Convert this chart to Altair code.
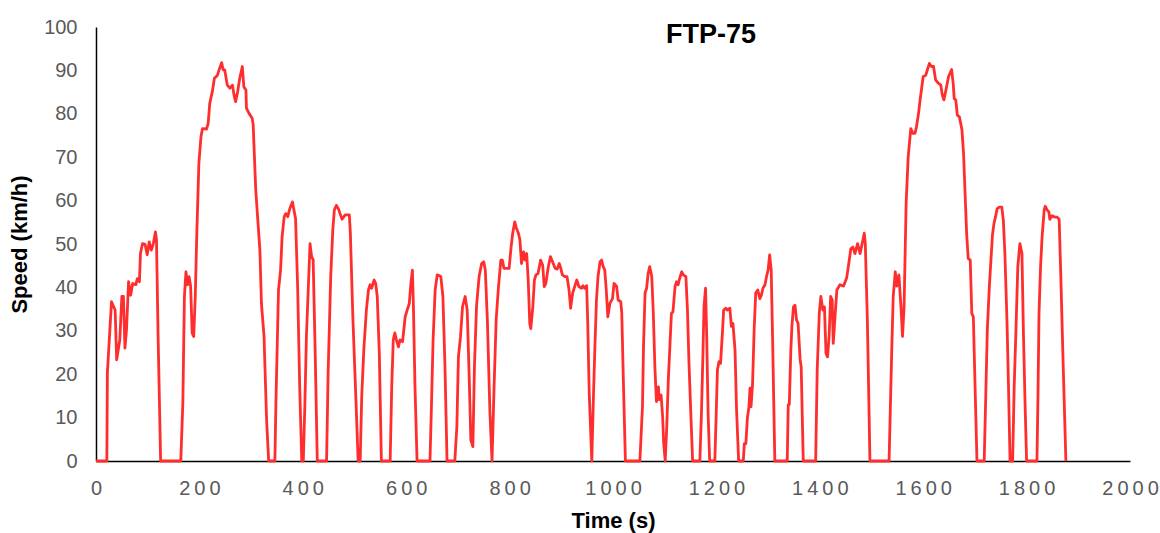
import altair as alt
import pandas as pd

# FTP-75 drive cycle: time (s) and vehicle speed (km/h), split by phase.

# Cold-start phase
cold_t = [0, 21, 22, 30, 37, 40, 46, 50, 53, 56, 59, 63, 67, 71, 77, 80, 84, 86, 90, 95,
          99, 103, 107, 111, 115, 117, 120, 125, 164, 168, 171, 174, 177, 180, 183, 186, 189, 192, 195, 199,
          203, 206, 214, 217, 220, 225, 229, 235, 238, 243, 246, 249, 254, 259, 264, 267, 270, 274, 278, 283,
          286, 290, 291, 296, 302, 304, 309, 313, 317, 320, 325, 330, 334, 346, 348, 353, 357, 360, 364, 367,
          371, 374, 376, 380, 383, 386, 390, 394, 398, 401, 404, 407, 411, 414, 417, 420, 424, 428, 446, 449,
          454, 458, 461, 465, 469, 472, 476, 482, 490, 492, 497, 503, 507]
cold_v = [0, 0, 20.3, 36.7, 34.8, 23.3, 27.9, 37.9, 37.9, 26.0, 30.2, 41.3, 38.2, 40.9, 40.6, 42.0, 41.3, 47.8, 50.1, 49.9,
          47.5, 50.5, 48.6, 50.1, 52.8, 51.0, 29.5, 0, 0, 13.4, 37.9, 43.6, 40.6, 42.5, 40.3, 29.5, 28.7, 37.9, 52.5, 68.6,
          74.7, 76.6, 76.5, 77.8, 82.4, 85.1, 88.2, 88.9, 90.1, 91.8, 90.1, 90.1, 86.6, 85.9, 86.6, 84.3, 82.8, 85.1, 88.2, 90.9,
          86.2, 85.5, 81.3, 80.1, 79.0, 77.5, 62.4, 55.5, 48.6, 36.3, 28.7, 9.4, 0, 0, 13.4, 39.4, 44.0, 51.7, 56.3, 57.0,
          56.3, 57.8, 58.5, 59.7, 57.8, 55.9, 40.2, 17.1, 0, 0, 13.0, 28.7, 40.9, 50.1, 47.1, 46.4, 24.8, 0, 0, 20.3,
          42.5, 53.2, 57.8, 58.9, 58.1, 57.0, 55.7, 56.7, 56.7, 52.5, 32.5, 13.4, 0]

# Transient phase
trans_t = [511, 514, 518, 523, 527, 530, 533, 538, 541, 544, 548, 552, 569, 572, 575, 578, 581, 585, 588, 593,
           598, 602, 606, 609, 612, 614, 617, 621, 646, 649, 652, 656, 660, 667, 671, 675, 679, 694, 698, 701,
           705, 709, 714, 718, 722, 725, 729, 732, 736, 741, 746, 750, 753, 757, 762, 766, 770, 774, 778, 783,
           786, 789, 799, 803, 806, 810, 813, 817, 820, 823, 827, 830, 833, 836, 839, 841, 845, 848, 851, 855,
           860, 864, 867, 870, 875, 879, 883, 888, 892, 896, 899, 902, 907, 911, 915, 918, 922, 926, 930, 934,
           939, 942, 945, 949, 951, 954, 959, 962, 965, 968, 971, 975, 978, 981, 984, 987, 990, 994, 999, 1002,
           1007, 1010, 1015, 1017, 1020, 1024, 1052, 1057, 1059, 1062, 1065, 1068, 1071, 1075, 1078, 1081, 1084, 1088, 1089, 1093,
           1096, 1098, 1101, 1104, 1107, 1110, 1113, 1116, 1120, 1123, 1126, 1129, 1133, 1136, 1141, 1144, 1147, 1151, 1154, 1168,
           1171, 1174, 1176, 1179, 1181, 1184, 1187, 1197, 1200, 1202, 1205, 1208, 1212, 1214, 1218, 1221, 1226, 1229, 1232, 1236,
           1239, 1243, 1252, 1254, 1257, 1260, 1263, 1265, 1267, 1270, 1273, 1276, 1280, 1284, 1287, 1290, 1294, 1297, 1300, 1303,
           1306, 1309, 1313, 1337, 1339, 1341, 1344, 1346, 1349, 1352, 1355, 1358, 1362, 1364, 1368]
trans_v = [0, 14.9, 25.6, 34.8, 39.4, 40.6, 39.8, 41.7, 40.9, 37.9, 24.8, 0, 0, 17.1, 27.9, 29.5, 27.9, 26.3, 27.9, 27.5,
           33.2, 34.8, 36.3, 40.9, 44.0, 35.5, 17.1, 0, 0, 13.4, 27.9, 39.4, 42.9, 42.5, 37.9, 21.7, 0, 0, 7.9, 24.0,
           28.6, 35.6, 37.9, 34.8, 18.7, 4.8, 3.3, 21.7, 35.6, 42.5, 45.5, 45.9, 44.0, 32.5, 11.0, 0, 17.1, 32.5, 39.4, 46.3,
           46.3, 44.4, 44.4, 49.4, 52.5, 55.1, 53.7, 52.5, 50.9, 45.5, 48.2, 46.3, 47.8, 41.7, 31.7, 30.5, 35.6, 41.7, 42.9, 43.2,
           46.3, 45.1, 40.2, 40.9, 44.8, 47.1, 45.9, 44.4, 44.2, 45.5, 44.4, 42.9, 42.5, 42.5, 39.4, 35.2, 38.7, 40.2, 41.7, 40.2,
           39.8, 40.4, 39.8, 40.4, 32.5, 15.6, 0, 14.1, 26.3, 37.1, 42.5, 45.9, 46.3, 44.8, 44.0, 39.4, 33.2, 36.3, 37.4, 40.9,
           40.2, 37.1, 36.7, 34.0, 18.7, 0, 0, 12.5, 26.3, 38.7, 39.8, 43.2, 44.8, 42.5, 34.0, 21.7, 13.7, 17.1, 14.1, 15.2,
           10.2, 4.1, 0, 7.9, 18.7, 26.3, 34.0, 34.4, 40.2, 41.3, 40.6, 42.1, 43.6, 42.9, 42.5, 34.8, 22.5, 9.4, 0, 0,
           10.7, 24.8, 35.6, 39.8, 30.2, 10.7, 0, 0, 12.5, 21.0, 22.9, 22.5, 30.2, 34.8, 35.2, 34.8, 35.2, 31.0, 31.7, 25.6,
           11.8, 0, 0, 4.0, 4.0, 10.0, 12.5, 16.8, 12.5, 17.9, 30.2, 38.7, 39.4, 37.4, 38.2, 39.8, 40.6, 42.5, 44.0, 47.5,
           44.0, 26.3, 0, 0, 13.0, 13.0, 25.6, 30.9, 35.5, 35.9, 32.5, 31.7, 23.3, 21.7, 0]

# Hot-start phase
hot_t = [1392, 1395, 1399, 1402, 1406, 1409, 1412, 1415, 1418, 1421, 1424, 1426, 1429, 1433, 1439, 1446, 1452, 1457, 1460, 1464,
         1468, 1473, 1478, 1482, 1486, 1488, 1492, 1497, 1534, 1539, 1542, 1546, 1549, 1553, 1557, 1560, 1563, 1567, 1571, 1576,
         1580, 1584, 1587, 1591, 1594, 1597, 1600, 1605, 1609, 1612, 1616, 1620, 1624, 1629, 1634, 1637, 1640, 1644, 1649, 1655,
         1658, 1660, 1663, 1666, 1670, 1675, 1678, 1681, 1684, 1687, 1691, 1694, 1697, 1700, 1704, 1718, 1721, 1724, 1728, 1731,
         1734, 1737, 1740, 1743, 1747, 1752, 1755, 1758, 1762, 1765, 1768, 1773, 1776, 1780, 1783, 1787, 1791, 1794, 1797, 1800,
         1820, 1822, 1824, 1827, 1830, 1834, 1836, 1840, 1843, 1845, 1849, 1855, 1859, 1863, 1866, 1871, 1876]
hot_v = [0, 21.0, 34.0, 37.9, 34.8, 35.5, 24.8, 24.0, 28.7, 37.9, 37.1, 27.1, 32.5, 39.4, 40.6, 40.3, 42.2, 46.3, 48.9, 49.3,
         47.8, 50.1, 47.8, 50.1, 52.5, 50.1, 32.5, 0, 0, 24.8, 37.9, 43.6, 40.3, 42.9, 35.5, 28.7, 35.5, 59.4, 70.1, 76.6,
         75.5, 75.5, 77.0, 80.1, 83.2, 85.9, 88.6, 88.9, 90.5, 91.6, 90.9, 90.9, 87.8, 87.1, 86.6, 84.3, 83.2, 85.5, 88.6, 90.2,
         87.0, 83.5, 83.2, 79.7, 79.3, 76.3, 70.9, 61.7, 52.5, 46.7, 46.3, 34.0, 33.2, 18.7, 0, 0, 14.9, 30.2, 40.3, 46.3,
         52.1, 54.8, 56.3, 58.1, 58.5, 58.5, 55.5, 47.8, 32.5, 17.1, 0, 0, 17.1, 32.5, 44.8, 50.1, 47.8, 28.7, 13.4, 0,
         0, 14.9, 34.0, 44.8, 51.7, 57.8, 58.7, 57.8, 57.4, 55.7, 56.5, 56.2, 56.2, 55.7, 43.3, 21.0, 0]

x_ticks = list(range(0, 2001, 200))
y_ticks = list(range(0, 101, 10))

df = pd.DataFrame({
    "time": cold_t + trans_t + hot_t,
    "speed": cold_v + trans_v + hot_v,
})

FONT = "Liberation Sans"

line = alt.Chart(df).mark_line(color="#FF2E2E", strokeWidth=2.8, strokeJoin="round").encode(
    x=alt.X(
        "time:Q",
        scale=alt.Scale(domain=[0, 2000], nice=False, zero=False),
        axis=alt.Axis(
            values=x_ticks,
            title="Time (s)",
            grid=False,
            ticks=False,
            domainColor="#000000",
            domainWidth=1.5,
            labelColor="#595959",
            labelFont=FONT,
            labelFontSize=20,
            labelPadding=17,
            labelFlush=False,
            labelOverlap=False,
            labelExpr="join(split(toString(datum.value), ''), '\u2009')",
            titleFont=FONT,
            titleFontSize=22,
            titleFontWeight="bold",
            titleColor="#000000",
            titlePadding=12,
        ),
    ),
    y=alt.Y(
        "speed:Q",
        scale=alt.Scale(domain=[0, 100], nice=False),
        axis=alt.Axis(
            values=y_ticks,
            title="Speed (km/h)",
            grid=False,
            ticks=False,
            domainColor="#000000",
            domainWidth=1.5,
            labelColor="#595959",
            labelFont=FONT,
            labelFontSize=20,
            labelPadding=19,
            labelFlush=False,
            titleFont=FONT,
            titleFontSize=22,
            titleFontWeight="bold",
            titleColor="#000000",
            titlePadding=12,
        ),
    ),
)

title = alt.Chart(pd.DataFrame({"label": ["FTP-75"]})).mark_text(
    font=FONT, fontSize=27, fontWeight="bold", color="#000000", baseline="middle", align="center"
).encode(
    text="label:N",
    x=alt.value(615),
    y=alt.value(8),
)

chart = alt.layer(line, title).properties(
    width=1034,
    height=434,
    padding={"left": 96, "top": 27, "right": 30, "bottom": 72},
    autosize=alt.AutoSizeParams(type="none"),
    background="#FFFFFF",
).configure_view(stroke=None)

chart.save("out.html", embed_options={"renderer": "svg", "actions": False})
